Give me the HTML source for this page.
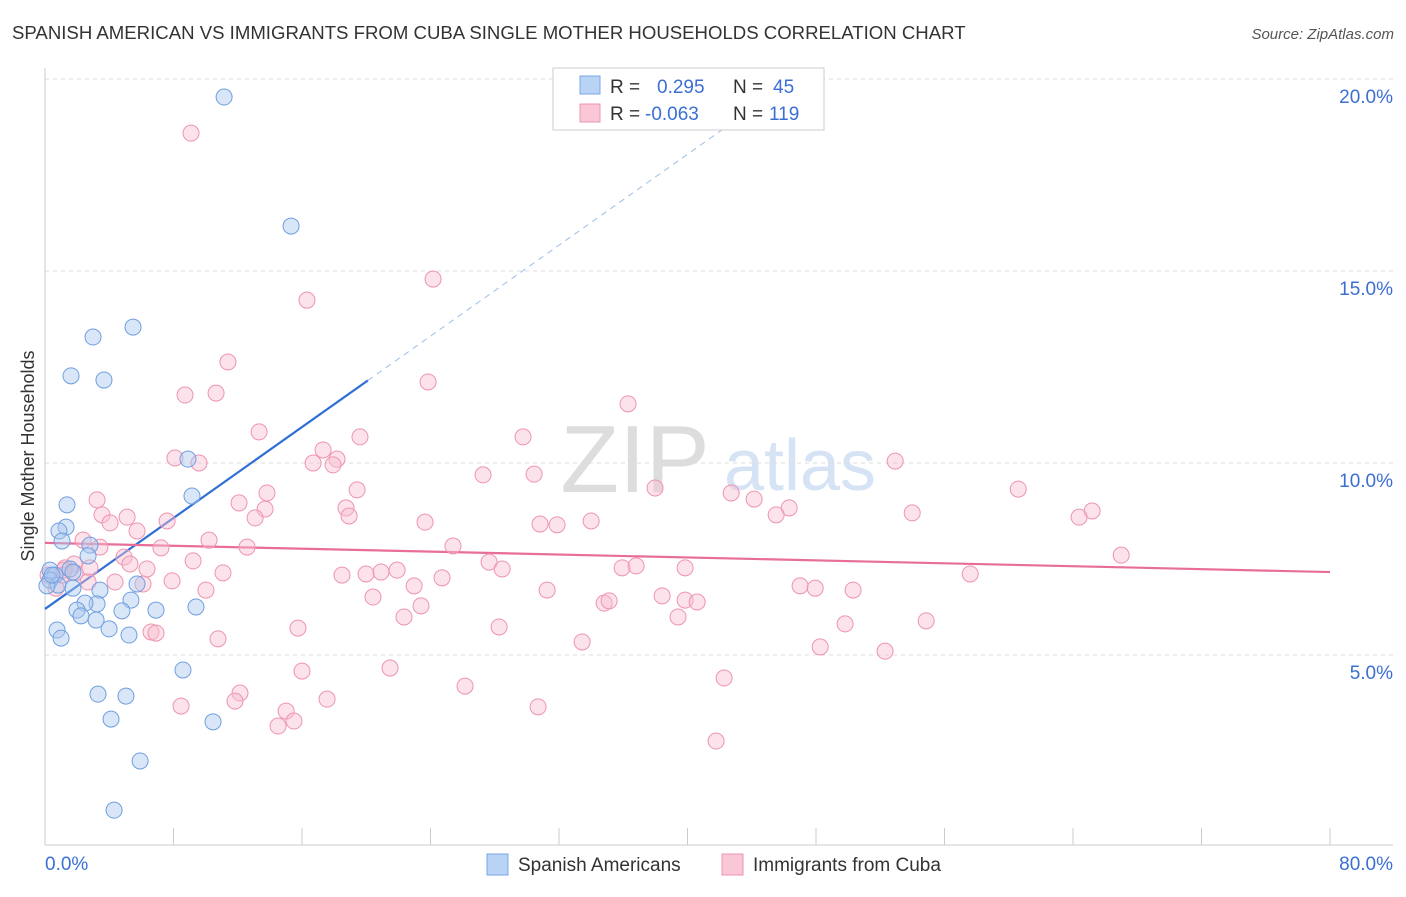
<!DOCTYPE html>
<html><head><meta charset="utf-8"><style>
body{margin:0;background:#fff;font-family:"Liberation Sans",sans-serif;}
svg text{font-family:"Liberation Sans",sans-serif;}
</style></head><body>
<svg id="chart" width="1406" height="892" xmlns="http://www.w3.org/2000/svg">
<text x="12" y="39" font-size="18.6" fill="#333">SPANISH AMERICAN VS IMMIGRANTS FROM CUBA SINGLE MOTHER HOUSEHOLDS CORRELATION CHART</text>
<text x="1394" y="39" font-size="15" fill="#555" text-anchor="end" font-style="italic">Source: ZipAtlas.com</text>
<text x="635" y="492" font-size="96" fill="#ddd" font-family="Liberation Serif" text-anchor="middle">ZIP</text>
<text x="800" y="490" font-size="72" fill="#d6e3f5" text-anchor="middle">atlas</text>
<text transform="translate(34,456) rotate(-90)" font-size="18" fill="#333" text-anchor="middle">Single Mother Households</text>
<g id="grid"></g><g id="axes"></g><g id="trends"></g><g id="pts"></g>
<g>
<rect x="553" y="68" width="271" height="62" fill="#fff" stroke="#ccc"/>
<rect x="580" y="76" width="20" height="18" fill="#b9d3f5" stroke="#7aa6e6"/>
<rect x="580" y="104" width="20" height="18" fill="#f9c7d5" stroke="#ee94b0"/>
<text x="610" y="93" font-size="19" fill="#333">R = </text><text x="657" y="93" font-size="19" fill="#3b6fd4">0.295</text>
<text x="733" y="93" font-size="19" fill="#333">N = </text><text x="773" y="93" font-size="19" fill="#3b6fd4">45</text>
<text x="610" y="120" font-size="19" fill="#333">R = </text><text x="645" y="120" font-size="19" fill="#3b6fd4">-0.063</text>
<text x="733" y="120" font-size="19" fill="#333">N = </text><text x="769" y="120" font-size="19" fill="#3b6fd4">119</text>
</g>
<g>
<rect x="487" y="854" width="21" height="21" fill="#b9d3f5" stroke="#7aa6e6"/>
<text x="518" y="871" font-size="19" fill="#333">Spanish Americans</text>
<rect x="722" y="854" width="21" height="21" fill="#f9c7d5" stroke="#ee94b0"/>
<text x="753" y="871" font-size="19" fill="#333">Immigrants from Cuba</text>
</g>
</svg>
<script>
const yTicks=[5,10,15,20];
const yTickLabels=["5.0%","10.0%","15.0%","20.0%"];
const xTickCount=10;
const blueX=[11.15,15.32,5.48,2.99,1.62,3.67,8.9,9.15,1.37,1.31,0.87,1.06,2.80,2.68,1.56,0.31,0.62,1.74,0.31,0.81,1.74,3.42,5.73,5.35,3.24,2.49,1.99,2.24,4.79,6.91,9.40,3.18,3.99,0.75,1.00,5.23,8.59,3.30,5.04,4.11,10.46,5.92,4.30,0.12,0.44];
const blueY=[19.53,16.17,13.54,13.28,12.27,12.16,10.10,9.14,8.91,8.33,8.23,7.97,7.86,7.58,7.24,7.21,7.08,7.16,6.95,6.82,6.74,6.69,6.85,6.43,6.33,6.35,6.17,6.02,6.15,6.17,6.25,5.91,5.68,5.65,5.44,5.52,4.61,3.98,3.93,3.33,3.26,2.24,0.96,6.80,7.08];
const pinkX=[9.09,24.16,16.31,11.39,23.85,8.72,10.65,36.30,13.33,29.76,19.61,17.31,8.09,9.59,16.69,18.18,17.93,52.93,27.27,30.45,37.98,42.72,44.15,60.59,13.82,19.43,3.24,12.08,18.74,13.70,46.33,53.99,18.93,45.52,65.19,64.38,3.55,5.11,4.05,13.08,7.60,23.66,30.82,31.88,34.00,5.73,2.37,10.21,7.22,12.58,25.40,67.00,4.92,9.22,27.65,28.46,35.93,36.80,39.85,1.81,2.80,1.25,5.29,6.35,11.08,18.49,19.99,20.92,21.92,24.72,57.60,2.68,4.36,7.91,6.10,10.02,22.98,31.26,47.01,47.95,50.31,20.42,38.42,39.85,40.60,34.81,35.12,23.41,22.35,39.41,54.86,49.81,28.27,15.75,6.60,6.91,10.77,33.44,48.26,52.30,21.48,16.00,42.28,26.15,12.14,11.83,8.47,17.56,15.01,30.70,14.51,15.50,41.78,0.68,1.06,1.87,1.18,0.19,3.42];
const pinkY=[18.59,14.79,14.24,12.63,12.11,11.77,11.82,11.54,10.81,10.68,10.68,10.34,10.13,10.00,10.00,10.10,9.95,10.05,9.69,9.71,9.35,9.22,9.06,9.32,9.22,9.30,9.04,8.96,8.83,8.80,8.83,8.70,8.62,8.65,8.75,8.59,8.65,8.59,8.44,8.57,8.49,8.46,8.41,8.39,8.49,8.23,7.99,7.99,7.79,7.81,7.84,7.60,7.55,7.45,7.42,7.24,7.27,7.32,7.27,7.37,7.27,7.27,7.37,7.24,7.14,7.08,7.11,7.16,7.21,7.01,7.11,6.90,6.90,6.93,6.85,6.69,6.80,6.69,6.80,6.74,6.69,6.51,6.54,6.43,6.38,6.35,6.41,6.28,5.99,5.99,5.89,5.81,5.73,5.70,5.60,5.57,5.42,5.34,5.21,5.10,4.66,4.58,4.40,4.19,4.01,3.80,3.67,3.85,3.54,3.65,3.15,3.28,2.76,6.74,7.08,7.14,7.21,7.08,7.81];
const blueTrend=[6.2,0.296];
const blueSolidEnd=20.1;
const pinkTrend=[7.92,-0.0095];
const NS="http://www.w3.org/2000/svg";
const sx=v=>45+v*1285/80, sy=v=>847-v*38.4;
function mk(t,a,p){const e=document.createElementNS(NS,t);for(const k in a)e.setAttribute(k,a[k]);p.appendChild(e);return e;}
const grid=document.getElementById('grid'),axes=document.getElementById('axes'),tr=document.getElementById('trends'),pts=document.getElementById('pts');
yTicks.forEach((t,i)=>{
 const l=mk('line',{x1:45,x2:1393,y1:sy(t),y2:sy(t),stroke:'#ddd','stroke-dasharray':'4,4'},grid);
 
 
 const tx=mk('text',{x:1393,y:sy(t)+24,'font-size':19,fill:'#3b6fd4','text-anchor':'end'},axes);
 tx.textContent=yTickLabels[i];
 
 
});
mk('line',{x1:45,x2:45,y1:68,y2:845,stroke:'#ccc'},axes);
const xa=mk('line',{x1:45,x2:1393,y1:845,y2:845,stroke:'#ccc'},axes);


for(let i=0;i<=xTickCount;i++){const x=sx(i*8);mk('line',{x1:x,x2:x,y1:828,y2:845,stroke:'#ccc'},axes);}
const xl=mk('text',{x:45,y:870,'font-size':19,fill:'#3b6fd4'},axes);xl.textContent='0.0%';


const xr=mk('text',{x:1393,y:870,'font-size':19,fill:'#3b6fd4','text-anchor':'end'},axes);xr.textContent='80.0%';


function dots(X,Y,fill,stroke,name){X.forEach((x,i)=>{const c=mk('circle',{cx:sx(x),cy:sy(Y[i]),r:8,fill:fill,stroke:stroke,'stroke-width':1},pts);
 
 });}
dots(pinkX,pinkY,'rgba(249,190,208,0.45)','#ee94b0','cuba-point');
dots(blueX,blueY,'rgba(170,200,240,0.45)','#6f9fe0','spanish-american-point');
const bf=x=>blueTrend[0]+blueTrend[1]*x, pf=x=>pinkTrend[0]+pinkTrend[1]*x;
const bx=blueSolidEnd;
const b1=mk('line',{x1:sx(0),y1:sy(bf(0)),x2:sx(bx),y2:sy(bf(bx)),stroke:'#2f6fd6','stroke-width':2.2},tr);


const xe=(20-blueTrend[0])/blueTrend[1];
const b2=mk('line',{x1:sx(bx),y1:sy(bf(bx)),x2:sx(xe),y2:sy(bf(xe)),stroke:'#9dbde8','stroke-width':1,'stroke-dasharray':'6,5'},tr);


const p1=mk('line',{x1:sx(0),y1:sy(pf(0)),x2:sx(80),y2:sy(pf(80)),stroke:'#e86e99','stroke-width':2.2},tr);


</script>
</body></html>
